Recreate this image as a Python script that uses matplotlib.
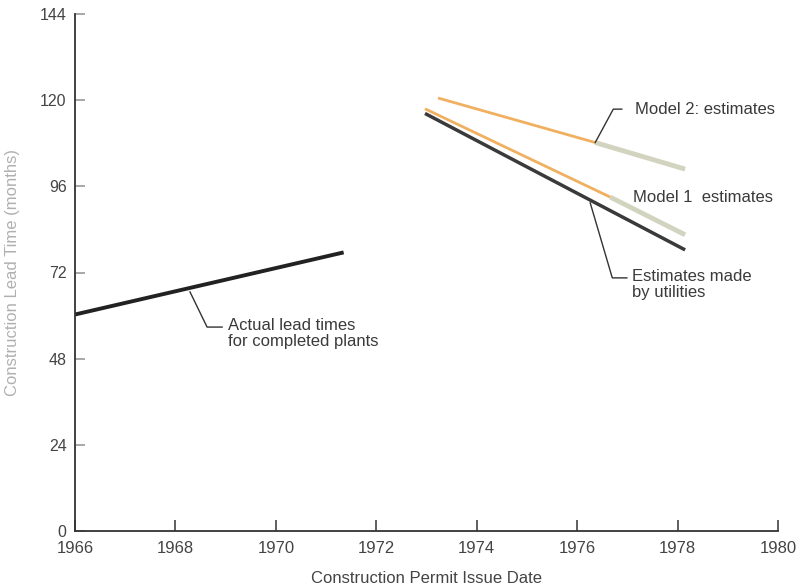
import numpy as np
import matplotlib.pyplot as plt

plt.rcParams['font.family'] = ['Liberation Sans', 'DejaVu Sans']

# data
actual_years = [1966.0, 1971.35]
actual_vals = [60.3, 77.6]

utility_years = [1972.97, 1978.15]
utility_vals = [116.3, 78.3]

model1_years = [1972.97, 1976.66, 1978.15]
model1_vals = [117.6, 93.0, 82.5]

model2_years = [1973.23, 1976.36, 1978.15]
model2_vals = [120.6, 108.2, 100.8]

x_ticks = [1966, 1968, 1970, 1972, 1974, 1976, 1978, 1980]
y_ticks = [0, 24, 48, 72, 96, 120, 144]

orange = '#f0b060'
pale = '#d3d4bf'

fig = plt.figure(figsize=(7.99, 5.85), dpi=100)
ax = fig.add_axes([75 / 799, 54 / 585, 703 / 799, 517 / 585])
ax.set_xlim(1966, 1980)
ax.set_ylim(0, 144)

# lines
ax.plot(actual_years, actual_vals, color='#222222', lw=2.8, solid_capstyle='butt')
ax.plot(model2_years[:2], model2_vals[:2], color=orange, lw=2.0, solid_capstyle='butt')
ax.plot(model2_years[1:], model2_vals[1:], color=pale, lw=3.5, solid_capstyle='butt')
ax.plot(model1_years[:2], model1_vals[:2], color=orange, lw=2.0, solid_capstyle='butt')
ax.plot(model1_years[1:], model1_vals[1:], color=pale, lw=3.5, solid_capstyle='butt')
ax.plot(utility_years, utility_vals, color='#3a3a3a', lw=2.5, solid_capstyle='butt')

# leader lines and labels
lead = dict(color='#333333', lw=1.0)
txt = dict(fontsize=12, color='#3a3a3a', linespacing=1.1)

ax.plot([1976.36, 1976.72, 1976.89], [108.2, 117.5, 117.5], **lead)
ax.text(1977.15, 117.5, 'Model 2: estimates', va='center', ha='left', **txt)

ax.text(1977.12, 93.0, 'Model 1  estimates', va='center', ha='left', **txt)

ax.plot([1976.26, 1976.70, 1976.99], [91.4, 70.5, 70.5], **lead)
ax.text(1977.09, 72.9, 'Estimates made\nby utilities', va='top', ha='left', **txt)

ax.plot([1968.29, 1968.63, 1968.93], [66.6, 56.8, 56.8], **lead)
ax.text(1969.05, 59.3, 'Actual lead times\nfor completed plants', va='top', ha='left', **txt)

# axes styling
for s in ['top', 'right']:
    ax.spines[s].set_visible(False)
for s in ['left', 'bottom']:
    ax.spines[s].set_color('#333333')
    ax.spines[s].set_linewidth(1.3)

ax.set_xticks(x_ticks)
ax.set_yticks(y_ticks)
ax.tick_params(axis='x', direction='in', length=8, width=1.2, color='#444444',
               labelsize=12, labelcolor='#444444', pad=7)
ax.tick_params(axis='y', direction='in', length=7, width=1.2, color='#999999',
               labelsize=11.5, labelcolor='#444444', pad=6)

ax.set_xlabel('Construction Permit Issue Date', fontsize=12, color='#444444', labelpad=11)
ax.set_ylabel('Construction Lead Time (months)', fontsize=12, color='#b0b0b0', labelpad=14)

fig.savefig('out.png', dpi=100)
